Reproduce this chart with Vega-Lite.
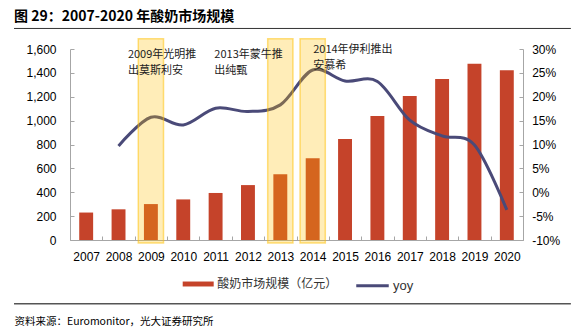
{
  "$schema": "https://vega.github.io/schema/vega-lite/v6.json",
  "width": 453,
  "height": 191,
  "autosize": {"type": "none"},
  "padding": {"left": 70, "top": 49, "right": 48, "bottom": 88},
  "background": "#ffffff",
  "config": {
    "view": {"stroke": null},
    "font": "Liberation Sans",
    "axis": {
      "labelFont": "Liberation Sans",
      "labelFontSize": 12,
      "labelColor": "#000000",
      "domainColor": "#A6A6A6",
      "tickColor": "#A6A6A6",
      "grid": false,
      "tickSize": -4
    },
    "legend": {"padding": 0}
  },
  "title": {
    "text": "图 29：2007-2020 年酸奶市场规模",
    "anchor": "start",
    "frame": "group",
    "dx": -56,
    "offset": -7,
    "baseline": "alphabetic",
    "font": "Noto Sans CJK SC",
    "fontSize": 14,
    "fontWeight": "bold",
    "color": "#000000"
  },
  "data": {
    "values": [
      {"year": 2007, "size": 230, "yoy": null},
      {"year": 2008, "size": 257, "yoy": 0.097},
      {"year": 2009, "size": 301, "yoy": 0.157},
      {"year": 2010, "size": 340, "yoy": 0.141},
      {"year": 2011, "size": 394, "yoy": 0.176},
      {"year": 2012, "size": 460, "yoy": 0.169},
      {"year": 2013, "size": 550, "yoy": 0.183},
      {"year": 2014, "size": 684, "yoy": 0.256},
      {"year": 2015, "size": 846, "yoy": 0.233},
      {"year": 2016, "size": 1039, "yoy": 0.232},
      {"year": 2017, "size": 1206, "yoy": 0.151},
      {"year": 2018, "size": 1349, "yoy": 0.118},
      {"year": 2019, "size": 1477, "yoy": 0.099},
      {"year": 2020, "size": 1421, "yoy": -0.037}
    ]
  },
  "layer": [
    {
      "mark": {"type": "bar", "width": {"band": 0.43}},
      "encoding": {
        "x": {
          "field": "year", "type": "ordinal",
          "scale": {"paddingInner": 0, "paddingOuter": 0},
          "axis": {
            "title": "资料来源：Euromonitor，光大证券研究所",
            "labelAngle": 0,
            "labelPadding": 15,
            "tickBand": "extent",
            "titleX": -56,
            "titleY": 81,
            "titleAlign": "left",
            "titleAnchor": "start",
            "titleBaseline": "middle",
            "titleFont": "Noto Sans CJK SC",
            "titleFontSize": 10.5,
            "titleFontWeight": "normal",
            "titleColor": "#000000"
          }
        },
        "y": {
          "field": "size", "type": "quantitative",
          "scale": {"domain": [0, 1600], "nice": false},
          "axis": {"orient": "left", "title": null, "values": [0, 200, 400, 600, 800, 1000, 1200, 1400, 1600], "format": ",d", "labelPadding": 18}
        },
        "fill": {
          "datum": "酸奶市场规模（亿元）", "type": "nominal",
          "scale": {"range": ["#C5432A"]},
          "legend": {
            "title": null, "orient": "none", "legendX": 112.7, "legendY": 219.5,
            "symbolType": "M-1,-0.16H1V0.16H-1Z", "symbolSize": 961, "symbolStrokeWidth": 0,
            "labelFont": "Noto Sans CJK SC", "labelFontSize": 12, "labelColor": "#333333", "labelOffset": 3.5
          }
        }
      }
    },
    {
      "transform": [{"filter": "datum.yoy != null"}],
      "mark": {"type": "line", "interpolate": "cardinal", "strokeWidth": 3},
      "encoding": {
        "x": {"field": "year", "type": "ordinal"},
        "y": {
          "field": "yoy", "type": "quantitative",
          "scale": {"domain": [-0.1, 0.3], "nice": false, "zero": false},
          "axis": {
            "orient": "right", "title": null,
            "values": [-0.1, -0.05, 0, 0.05, 0.1, 0.15, 0.2, 0.25, 0.3],
            "labelExpr": "(datum.value < 0 ? '-' : '') + format(abs(datum.value), '.0%')",
            "labelPadding": 12.7
          }
        },
        "stroke": {
          "datum": "yoy", "type": "nominal",
          "scale": {"range": ["#4A4A78"]},
          "legend": {
            "title": null, "orient": "none", "legendX": 284.5, "legendY": 218.75,
            "symbolType": "stroke", "symbolSize": 1056, "symbolStrokeWidth": 3,
            "labelFont": "Liberation Sans", "labelFontSize": 13, "labelColor": "#333333", "labelOffset": 2.5
          }
        }
      }
    },
    {
      "transform": [{"filter": "datum.year == 2009 || datum.year == 2013 || datum.year == 2014"}],
      "mark": {"type": "bar", "width": {"band": 0.78}, "fill": "#FFC000", "fillOpacity": 0.28, "stroke": "#FFC000", "strokeWidth": 1.5, "strokeOpacity": 0.5},
      "encoding": {
        "x": {"field": "year", "type": "ordinal"},
        "y": {"datum": -25, "type": "quantitative", "scale": {"domain": [0, 1600], "nice": false}, "axis": null},
        "y2": {"datum": 1685}
      }
    },
    {
      "data": {"values": [{"year": 2009, "note": "2009年光明推\n出莫斯利安"}]},
      "mark": {"type": "text", "align": "left", "baseline": "alphabetic", "dx": -23, "lineBreak": "\n", "lineHeight": 15.5, "font": "Noto Sans CJK SC", "fontSize": 11, "fill": "#222222"},
      "encoding": {
        "x": {"field": "year", "type": "ordinal"},
        "y": {"datum": 1522, "type": "quantitative", "scale": {"domain": [0, 1600], "nice": false}, "axis": null},
        "text": {"field": "note"}
      }
    },
    {
      "data": {"values": [{"year": 2013, "note": "2013年蒙牛推\n出纯甄"}]},
      "mark": {"type": "text", "align": "left", "baseline": "alphabetic", "dx": -66, "lineBreak": "\n", "lineHeight": 15.5, "font": "Noto Sans CJK SC", "fontSize": 11, "fill": "#222222"},
      "encoding": {
        "x": {"field": "year", "type": "ordinal"},
        "y": {"datum": 1522, "type": "quantitative", "scale": {"domain": [0, 1600], "nice": false}, "axis": null},
        "text": {"field": "note"}
      }
    },
    {
      "data": {"values": [{"year": 2014, "note": "2014年伊利推出\n安慕希"}]},
      "mark": {"type": "text", "align": "left", "baseline": "alphabetic", "dx": 0.5, "lineBreak": "\n", "lineHeight": 15.5, "font": "Noto Sans CJK SC", "fontSize": 11, "fill": "#222222"},
      "encoding": {
        "x": {"field": "year", "type": "ordinal"},
        "y": {"datum": 1566, "type": "quantitative", "scale": {"domain": [0, 1600], "nice": false}, "axis": null},
        "text": {"field": "note"}
      }
    },
    {
      "data": {"values": [{}]},
      "mark": {"type": "rule", "color": "#333333", "strokeWidth": 1},
      "encoding": {
        "x": {"datum": 2007, "type": "ordinal", "bandPosition": -1.73},
        "x2": {"datum": 2020, "bandPosition": 2.48},
        "y": {"datum": 1772, "type": "quantitative", "scale": {"domain": [0, 1600], "nice": false}, "axis": null}
      }
    },
    {
      "data": {"values": [{}]},
      "mark": {"type": "rule", "color": "#555555", "strokeWidth": 1.3},
      "encoding": {
        "x": {"datum": 2007, "type": "ordinal", "bandPosition": -1.73},
        "x2": {"datum": 2020, "bandPosition": 2.48},
        "y": {"datum": -534, "type": "quantitative", "scale": {"domain": [0, 1600], "nice": false}, "axis": null}
      }
    }
  ],
  "resolve": {"scale": {"y": "independent", "fill": "independent", "stroke": "independent"}}
}
